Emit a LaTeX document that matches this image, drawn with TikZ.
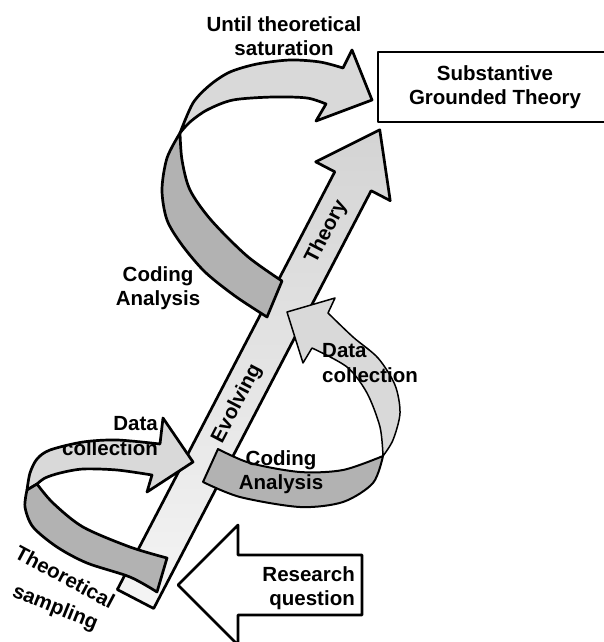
\documentclass[tikz,border=0pt]{standalone}
\usepackage{fontspec}
\setmainfont{Liberation Sans}
\begin{document}
\begin{tikzpicture}[x=1pt,y=-1pt,line join=round,
    rim/.style={draw=black,line width=2.7pt},
    lightband/.style={rim,fill=black!15},
    darkband/.style={rim,fill=black!30},
    txt/.style={font=\bfseries\fontsize{20.5}{24.5}\selectfont,inner sep=0pt}]
  \useasboundingbox (0,0) rectangle (603,642);

  % main arrow: evolving theory
  \begin{scope}[shift={(135.5,599)},rotate=62.5]
    \draw[rim,bottom color=black!4,top color=black!17] (0,-20.5) -- (471,-20.5) -- (471,-42) -- (529,0)
      -- (471,42) -- (471,20.5) -- (0,20.5) -- cycle;
    \node[txt,rotate=62.5] (evolving) at (220,0) {Evolving};
    \node[txt,rotate=62.5] (theory) at (414,0) {Theory};
  \end{scope}

  \draw[rim,fill=white] (178,585) -- (238,525) -- (238,555) -- (362,555) -- (362,615)
    -- (238,615) -- (238,645) -- cycle;
  \node[txt,align=right,anchor=east] (research) at (355,588) {Research\\question};

  \node[rim,txt,fill=white,align=center,minimum width=234pt,minimum height=70pt] (sgt) at (495,87)
    {Substantive\\Grounded Theory};

  % upper loop
  \draw[darkband] (180,133) -- plot[smooth] coordinates {(180,133) (167,158) (162,190) (167,220)
      (182,245) (205,272) (235,296) (267,317)}
    -- (282,281) -- plot[smooth] coordinates {(282,281) (247,256) (211,220) (190,190) (182,160) (180,133)} -- cycle;
  \draw[lightband] (180,133) -- plot[smooth] coordinates {(180,133) (193,103) (210,85) (230,72)
      (257,64) (290,60) (320,62) (343,68)}
    -- (352,50) -- (372,100) -- (316,121) -- (326,104)
    -- plot[smooth] coordinates {(326,104) (307,98) (273,97) (233,100) (207,110) (190,122) (180,133)} -- cycle;

  % middle loop
  \draw[darkband,line width=2pt] (218,449) -- plot[smooth] coordinates {(218,449) (250,463) (300,472)
      (343,470) (383,456)}
    -- plot[smooth] coordinates {(383,456) (373,483) (343,502) (300,507) (240,497) (203,482)} -- cycle;
  \draw[lightband,line width=1.5pt] (383,456) -- plot[smooth] coordinates {(383,456) (393,440) (400,413)
      (395,385) (378,358) (353,337) (328,313)}
    -- (335,298) -- (287,312) -- (303,363) -- (312,348)
    -- plot[smooth] coordinates {(312,348) (347,367) (367,393) (380,427) (383,456)} -- cycle;

  % lower loop
  \draw[lightband] (27,490) -- plot[smooth] coordinates {(27,490) (30,473) (37,459) (50,450)
      (83,442) (117,440) (160,444)}
    -- (163,418) -- (193,462) -- (147,492) -- (152,475)
    -- plot[smooth] coordinates {(152,475) (117,470) (83,469) (60,473) (45,478) (37,484)} -- cycle;
  \draw[darkband] (27,490) -- plot[smooth] coordinates {(27,490) (25,507) (33,527) (57,547)
      (87,563) (130,577) (157,592)}
    -- (167,558) -- plot[smooth] coordinates {(167,558) (130,547) (83,527) (53,503) (37,484)} -- cycle;

  \node[txt,align=center] (until) at (284,36) {Until theoretical\\saturation};
  \node[txt,align=center] (codingtop) at (158,288) {Coding\\Analysis};
  \node[txt,align=right,anchor=east] (datalow) at (158,436) {Data\\collection};
  \node[txt,align=center] (codingmid) at (281,472) {Coding\\Analysis};
  \node[txt,align=left,anchor=west] (datamid) at (322,363) {Data\\collection};
  \node[txt,rotate=-28] (theo) at (65,577) {Theoretical};
  \node[txt,rotate=-22] (samp) at (55,608) {sampling};
\end{tikzpicture}
\end{document}
